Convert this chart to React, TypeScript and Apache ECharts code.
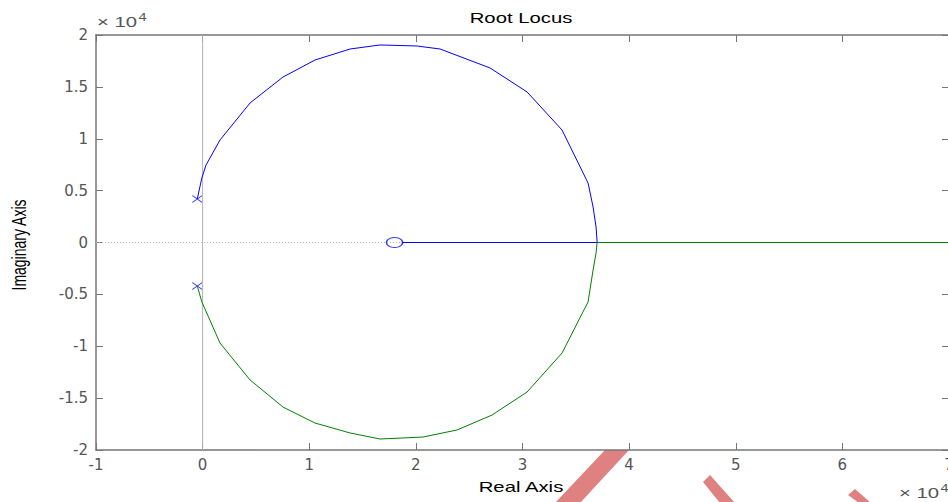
import React, { useEffect, useRef } from "react";
import * as echarts from "echarts";

// values in units of x10^4
const xTickMin = -1;
const xTickMax = 7;
const yTickMin = -2;
const yTickMax = 2;

const upperBranch: [number, number][] = [
  [-0.05, 0.42], [-0.008, 0.62], [0.032, 0.747], [0.163, 0.988], [0.445, 1.345],
  [0.754, 1.595], [1.054, 1.759], [1.383, 1.865], [1.664, 1.904], [2.011, 1.894],
  [2.227, 1.865], [2.696, 1.682], [3.043, 1.451], [3.371, 1.084], [3.615, 0.573],
  [3.662, 0.342], [3.69, 0.149], [3.7, 0],
];
const lowerBranch: [number, number][] = [
  [-0.05, -0.42], [-0.008, -0.571], [0.163, -0.969], [0.445, -1.325], [0.754, -1.586],
  [1.054, -1.74], [1.383, -1.836], [1.664, -1.894], [2.067, -1.875], [2.386, -1.807],
  [2.714, -1.663], [3.043, -1.441], [3.371, -1.065], [3.615, -0.573], [3.662, -0.265],
  [3.69, -0.1], [3.7, 0],
];
const blueReal: [number, number][] = [[3.7, 0], [1.87, 0]];
const greenReal: [number, number][] = [[3.7, 0], [7.2, 0]];
const poles: [number, number][] = [[-0.05, 0.42], [-0.05, -0.42]];
const zeros: [number, number][] = [[1.8, 0]];
const hAxisLine: [number, number][] = [[-1, 0], [7, 0]];
const vAxisLine: [number, number][] = [[0, -2], [0, 2]];

const FONT = "'Liberation Sans', Arial, Helvetica, sans-serif";
const TICK_FONT = "'DejaVu Sans', 'Liberation Sans', sans-serif";
const AXIS_COLOR = "#767676";
const LABEL_COLOR = "#555555";
const STROKE_RED = "#df8181";
const STRETCH = 1.45;

export default function App() {
  const ref = useRef<HTMLDivElement>(null);
  useEffect(() => {
    if (!ref.current) return;
    const chart = echarts.init(ref.current, undefined, { renderer: "svg" });
    const axisCommon = {
      type: "value" as const,
      axisLine: { show: true, onZero: false, lineStyle: { color: AXIS_COLOR, width: 1.5 } },
      axisTick: { show: true, inside: true, length: 7, lineStyle: { color: AXIS_COLOR } },
      splitLine: { show: false },
    };
    const sciRich = {
      a: { fontSize: 14, fill: LABEL_COLOR, fontFamily: FONT },
      b: { fontSize: 10, fill: LABEL_COLOR, fontFamily: FONT, verticalAlign: "top", padding: [0, 0, 8, 1] },
    };
    chart.setOption({
      animation: false,
      backgroundColor: "#ffffff",
      textStyle: { fontFamily: FONT },
      grid: { left: 96, top: 35, right: -1, bottom: 52, containLabel: false, outerBoundsMode: "none" },
      xAxis: [
        {
          ...axisCommon,
          min: xTickMin,
          max: xTickMax,
          interval: 1,
          position: "bottom",
          axisLabel: { color: LABEL_COLOR, fontSize: 15, margin: 7, fontFamily: TICK_FONT },
        },
        {
          ...axisCommon,
          min: xTickMin,
          max: xTickMax,
          interval: 1,
          position: "top",
          axisLabel: { show: false },
        },
      ],
      yAxis: [
        {
          ...axisCommon,
          min: yTickMin,
          max: yTickMax,
          interval: 0.5,
          position: "left",
          axisLabel: { color: LABEL_COLOR, fontSize: 15, margin: 8, fontFamily: TICK_FONT },
        },
        {
          ...axisCommon,
          min: yTickMin,
          max: yTickMax,
          interval: 0.5,
          position: "right",
          axisLabel: { show: false },
        },
      ],
      series: [
        {
          type: "line", data: hAxisLine, showSymbol: false, silent: true,
          lineStyle: { color: "#b5b5b5", width: 1, type: [1, 2] },
        },
        {
          type: "line", data: vAxisLine, showSymbol: false, silent: true,
          lineStyle: { color: "#b0b0b0", width: 1 },
        },
        {
          type: "line", data: greenReal, showSymbol: false, clip: true,
          lineStyle: { color: "#008000", width: 1 },
        },
        {
          type: "line", data: blueReal, showSymbol: false,
          lineStyle: { color: "#0000ff", width: 1 },
        },
        {
          type: "line", data: upperBranch, showSymbol: false,
          lineStyle: { color: "#0000ff", width: 1 },
        },
        {
          type: "line", data: lowerBranch, showSymbol: false,
          lineStyle: { color: "#008000", width: 1 },
        },
        {
          type: "scatter", data: poles,
          symbol: "path://M0,0L10,10M10,0L0,10",
          symbolSize: [10, 7],
          itemStyle: { color: "transparent", borderColor: "#0000ff", borderWidth: 1 },
        },
        {
          type: "scatter", data: zeros,
          symbol: "circle",
          symbolSize: [16, 10],
          itemStyle: { color: "transparent", borderColor: "#0000ff", borderWidth: 1.2 },
        },
      ],
      graphic: [
        {
          type: "text", x: 521, y: 18, scaleX: STRETCH,
          style: { text: "Root Locus", fontSize: 14, fill: "#000", fontFamily: FONT, align: "center", verticalAlign: "middle" },
        },
        {
          type: "text", x: 97, y: 13, scaleX: STRETCH,
          style: { text: "{a|× 10}{b|4}", rich: sciRich },
        },
        {
          type: "text", x: 899, y: 484, scaleX: STRETCH,
          style: { text: "{a|× 10}{b|4}", rich: sciRich },
        },
        {
          type: "text", x: 521, y: 487, scaleX: STRETCH,
          style: { text: "Real Axis", fontSize: 14, fill: "#000", fontFamily: FONT, align: "center", verticalAlign: "middle" },
        },
        {
          type: "text", x: 19, y: 245, rotation: Math.PI / 2, scaleY: STRETCH,
          style: { text: "Imaginary Axis", fontSize: 14, fill: "#000", fontFamily: FONT, align: "center", verticalAlign: "middle" },
        },
        {
          type: "polygon",
          shape: { points: [[605, 450], [629, 450], [580, 503], [555, 503]] },
          style: { fill: STROKE_RED },
        },
        {
          type: "polygon",
          shape: { points: [[703, 482], [710, 475], [735, 503], [720, 503]] },
          style: { fill: STROKE_RED },
        },
        {
          type: "polygon",
          shape: { points: [[848, 495], [855, 489], [871, 503], [859, 503]] },
          style: { fill: STROKE_RED },
        },
      ],
    });
    return () => chart.dispose();
  }, []);
  return (
    <div
      ref={ref}
      style={{ position: "fixed", left: 0, top: 0, width: 948, height: 502 }}
    />
  );
}
